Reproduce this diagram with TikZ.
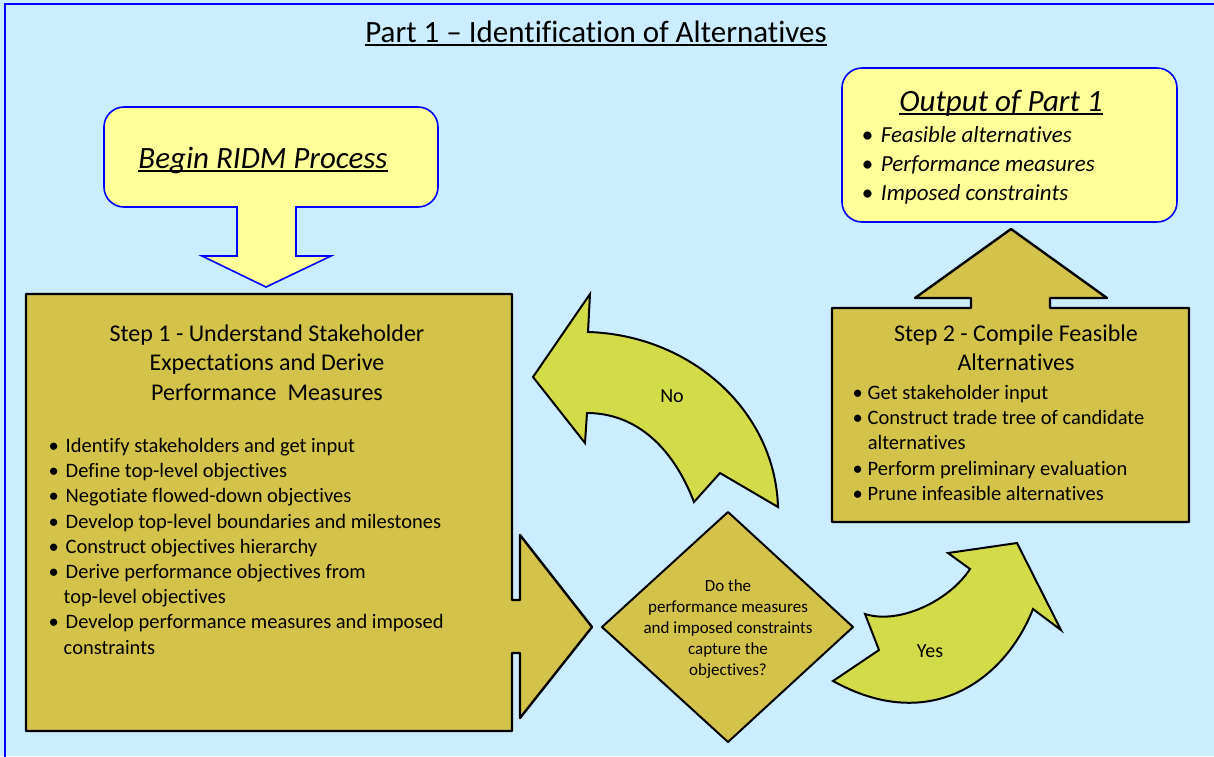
\documentclass[tikz,border=0pt]{standalone}
\usepackage{fontspec}
\setmainfont{Carlito}[Ligatures={TeX,NoCommon}]
\usepackage{tkz-euclide}

\definecolor{skyback}{HTML}{CCECFF}
\definecolor{stepgold}{HTML}{D4C34A}
\definecolor{loopgreen}{HTML}{D2DC48}
\definecolor{notepad}{HTML}{FFFF99}

\newcommand{\fsz}[2]{\fontsize{#1}{#2}\selectfont}
\newcommand{\undl}[1]{\setbox0\hbox{#1}\rlap{\rule[-3.5pt]{\wd0}{1.6pt}}\box0}

\begin{document}
\begin{tikzpicture}[x=1pt,y=-1pt]
		\useasboundingbox (0,0) rectangle (1214,756);
		\clip (0,0) rectangle (1214,756);
		\fill[skyback] (0,0) rectangle (1214,756);
		\draw[blue,line width=2pt] (5,770) -- (5,4) -- (1230,4);

		\node[anchor=base] (title) at (596,42)
			{\fsz{31}{36}\undl{Part 1 – Identification of Alternatives}};

		% start box with its arrow down
		\draw[blue,line width=1.6pt,fill=notepad]
			(237,256) -- (237,207) -- (124,207) arc[start angle=90,end angle=180,radius=20]
			-- (104,127) arc[start angle=180,end angle=270,radius=20]
			-- (418,107) arc[start angle=270,end angle=360,radius=20]
			-- (438,187) arc[start angle=0,end angle=90,radius=20]
			-- (296,207) -- (296,256) -- (331,256) -- (266,287) -- (202,256) -- cycle;
		\node[anchor=base] (begin) at (263,168)
			{\fsz{31}{36}\itshape\undl{Begin RIDM Process}};

		% output box
		\draw[blue,line width=1.6pt,fill=notepad,rounded corners=20pt]
			(842,68) rectangle (1177,222);
		\node[anchor=base] (outhead) at (1001,111)
			{\fsz{31}{36}\itshape\undl{Output of Part 1}};
		\node[anchor=base west] (outlist) at (858,142.5)
			{\fsz{23}{29}\itshape\begin{tabular}[t]{@{}l@{\hspace{8pt}}l@{}}
				\textbullet & Feasible alternatives\\
				\textbullet & Performance measures\\
				\textbullet & Imposed constraints
			\end{tabular}};

		% step 1 with arrow right
		\tkzDefPoint(26,294){A}
		\tkzDefPoint(512,294){B}
		\tkzDefPoint(512,600){C}
		\tkzDefPoint(520,600){D}
		\tkzDefPoint(520,535){E}
		\tkzDefPoint(592,627){F}
		\tkzDefPoint(520,718){G}
		\tkzDefPoint(520,653){H}
		\tkzDefPoint(512,653){I}
		\tkzDefPoint(512,731){J}
		\tkzDefPoint(26,731){K}
		\tkzDrawPolygon[fill=stepgold,line width=2.4pt](A,B,C,D,E,F,G,H,I,J,K)

		% step 2 with arrow up
		\tkzDefPoint(832,308){L}
		\tkzDefPoint(971,308){M}
		\tkzDefPoint(971,298){N}
		\tkzDefPoint(915,298){O}
		\tkzDefPoint(1011,229){P}
		\tkzDefPoint(1107,298){Q}
		\tkzDefPoint(1050,298){R}
		\tkzDefPoint(1050,308){S}
		\tkzDefPoint(1189,308){T}
		\tkzDefPoint(1189,522){U}
		\tkzDefPoint(832,522){V}
		\tkzDrawPolygon[fill=stepgold,line width=2.4pt](L,M,N,O,P,Q,R,S,T,U,V)

		% decision
		\tkzDefPoint(728,512){W}
		\tkzDefPoint(853,627){X}
		\tkzDefPoint(728,742){Y}
		\tkzDefPoint(602,627){Z}
		\tkzDrawPolygon[fill=stepgold,line width=2pt](W,X,Y,Z)

		% loop back (no)
		\tkzDefPoint(533,377){n1}
		\tkzDefPoint(590,294){n2}
		\tkzDefPoint(588,332){n3}
		\tkzDefPoint(778,507){n4}
		\tkzDefPoint(720,473){n5}
		\tkzDefPoint(694,502){n6}
		\tkzDefPoint(587,413){n7}
		\tkzDefPoint(585,443){n8}
		\draw[fill=loopgreen,line width=2pt,line join=miter]
			(n1) -- (n2) -- (n3) .. controls (690,335) and (775,410) .. (n4)
			-- (n5) -- (n6) .. controls (670,440) and (630,413) .. (n7) -- (n8) -- cycle;

		% go on (yes)
		\tkzDefPoint(833,681){y1}
		\tkzDefPoint(879,650){y2}
		\tkzDefPoint(865,614){y3}
		\tkzDefPoint(970,569){y4}
		\tkzDefPoint(948,553){y5}
		\tkzDefPoint(1017,543){y6}
		\tkzDefPoint(1061,630){y7}
		\tkzDefPoint(1033,609){y8}
		\draw[fill=loopgreen,line width=2pt,line join=miter]
			(y1) -- (y2) -- (y3) .. controls (900,625) and (950,600) .. (y4)
			-- (y5) -- (y6) -- (y7) -- (y8) .. controls (1005,680) and (930,735) .. cycle;

		% texts
		\node[anchor=base] (head1) at (267,341)
			{\fsz{24}{29.5}\begin{tabular}[t]{@{}c@{}}
				Step 1 - Understand Stakeholder\\
				Expectations and Derive\\
				Performance\ \ Measures
			\end{tabular}};
		\node[anchor=base west] (list1) at (45,452.5)
			{\fsz{20.5}{25.2}\begin{tabular}[t]{@{}l@{\hspace{7pt}}l@{}}
				\textbullet & Identify stakeholders and get input\\
				\textbullet & Define top-level objectives\\
				\textbullet & Negotiate flowed-down objectives\\
				\textbullet & Develop top-level boundaries and milestones\\
				\textbullet & Construct objectives hierarchy\\
				\textbullet & Derive performance objectives from\\
				 & \hspace{-2pt}top-level objectives\\
				\textbullet & Develop performance measures and imposed\\
				 & \hspace{-2pt}constraints
			\end{tabular}};

		\node[anchor=base] (head2) at (1016,341)
			{\fsz{24}{29}\begin{tabular}[t]{@{}c@{}}
				Step 2 - Compile Feasible\\
				Alternatives
			\end{tabular}};
		\node[anchor=base west] (list2) at (849,399.5)
			{\fsz{20.5}{25.2}\begin{tabular}[t]{@{}l@{\hspace{5pt}}l@{}}
				\textbullet & Get stakeholder input\\
				\textbullet & Construct trade tree of candidate\\
				 & alternatives\\
				\textbullet & Perform preliminary evaluation\\
				\textbullet & Prune infeasible alternatives
			\end{tabular}};

		\node[anchor=base] (ask) at (728,591.5)
			{\fsz{17}{21}\begin{tabular}[t]{@{}c@{}}
				Do the\\
				performance measures\\
				and imposed constraints\\
				capture the\\
				objectives?
			\end{tabular}};

		\node (no) at (672,396) {\fsz{20}{24}No};
		\node (yes) at (930,651) {\fsz{20}{24}Yes};
	\end{tikzpicture}
\end{document}
